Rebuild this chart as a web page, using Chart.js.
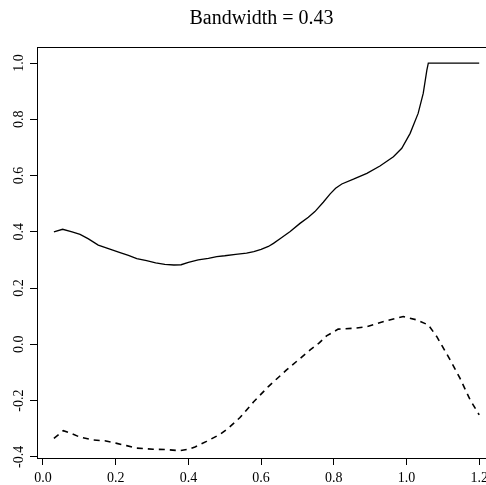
<!DOCTYPE html>
<html lang="en">
<head>
  <meta charset="UTF-8" />
  <title>Bandwidth = 0.43</title>
  <script src="https://cdn.jsdelivr.net/npm/chart.js"></script>
  <style>
    body { margin: 0; background: #fff; }
    #wrap { width: 486px; height: 485px; }
  </style>
</head>
<body>
  <div id="wrap"><canvas id="grafik"></canvas></div>
  <script>
    // solid curve
    const solidX = [0.03, 0.054, 0.08, 0.102, 0.125, 0.152, 0.18, 0.212, 0.235, 0.258, 0.285, 0.31, 0.335, 0.36, 0.38, 0.40, 0.427, 0.455, 0.478, 0.50, 0.53, 0.56, 0.58, 0.60, 0.62, 0.634, 0.655, 0.68, 0.707, 0.73, 0.748, 0.771, 0.79, 0.805, 0.822, 0.854, 0.891, 0.927, 0.964, 0.987, 1.01, 1.032, 1.046, 1.056, 1.06, 1.2];
    const solidY = [0.400, 0.409, 0.400, 0.391, 0.375, 0.353, 0.340, 0.326, 0.316, 0.305, 0.298, 0.290, 0.284, 0.282, 0.283, 0.291, 0.300, 0.306, 0.312, 0.315, 0.320, 0.324, 0.330, 0.338, 0.348, 0.359, 0.378, 0.401, 0.430, 0.452, 0.472, 0.505, 0.535, 0.555, 0.570, 0.587, 0.608, 0.634, 0.667, 0.697, 0.750, 0.821, 0.892, 0.975, 1.0, 1.0];
    // dashed curve
    const dashX = [0.03, 0.056, 0.08, 0.102, 0.138, 0.17, 0.203, 0.23, 0.258, 0.303, 0.34, 0.377, 0.40, 0.418, 0.45, 0.487, 0.51, 0.542, 0.579, 0.62, 0.67, 0.70, 0.735, 0.76, 0.78, 0.812, 0.854, 0.891, 0.945, 0.991, 1.028, 1.06, 1.083, 1.12, 1.147, 1.175, 1.2];
    const dashY = [-0.334, -0.307, -0.318, -0.330, -0.340, -0.343, -0.352, -0.360, -0.369, -0.373, -0.374, -0.378, -0.373, -0.365, -0.345, -0.320, -0.298, -0.260, -0.205, -0.150, -0.091, -0.058, -0.020, 0.005, 0.030, 0.054, 0.057, 0.063, 0.084, 0.099, 0.087, 0.069, 0.028, -0.055, -0.120, -0.197, -0.251];
    const xTicks = [0.0, 0.2, 0.4, 0.6, 0.8, 1.0, 1.2];
    const yTicks = [-0.4, -0.2, 0.0, 0.2, 0.4, 0.6, 0.8, 1.0];

    const serif = "'Liberation Serif', 'DejaVu Serif', serif";

    const toPoints = (xs, ys) => xs.map((x, i) => ({ x: x, y: ys[i] }));

    // white background + top edge of the box
    const boxPlugin = {
      id: 'box',
      beforeDraw(chart) {
        const c = chart.ctx;
        c.save();
        c.fillStyle = '#fff';
        c.fillRect(0, 0, chart.width, chart.height);
        c.restore();
      },
      afterDraw(chart) {
        const a = chart.chartArea, c = chart.ctx;
        c.save();
        c.strokeStyle = '#000';
        c.lineWidth = 1;
        c.beginPath();
        c.moveTo(a.left, a.top + 0.5);
        c.lineTo(a.right, a.top + 0.5);
        c.stroke();
        c.restore();
      }
    };

    new Chart(document.getElementById('grafik'), {
      type: 'scatter',
      data: {
        datasets: [
          {
            data: toPoints(solidX, solidY),
            showLine: true,
            borderColor: '#000',
            borderWidth: 1.3,
            pointRadius: 0,
            tension: 0
          },
          {
            data: toPoints(dashX, dashY),
            showLine: true,
            borderColor: '#000',
            borderWidth: 1.6,
            borderDash: [6, 5],
            pointRadius: 0,
            tension: 0
          }
        ]
      },
      options: {
        responsive: true,
        maintainAspectRatio: false,
        animation: false,
        layout: { padding: 0 },
        plugins: {
          legend: { display: false },
          tooltip: { enabled: false },
          title: {
            display: true,
            fullSize: false,
            text: 'Bandwidth = 0.43',
            color: '#000',
            font: { family: serif, size: 20, weight: 'normal' },
            padding: { top: 7, bottom: 16 }
          }
        },
        scales: {
          x: {
            type: 'linear',
            min: -0.0165,
            max: 1.2187,
            afterFit: s => { s.height = 27; s.paddingLeft = 0; s.paddingRight = 0; },
            afterBuildTicks: s => { s.ticks = xTicks.map(v => ({ value: v })); },
            border: { display: true, color: '#000', width: 1 },
            grid: { drawOnChartArea: false, drawTicks: true, tickLength: 7, tickColor: '#000' },
            ticks: {
              color: '#000',
              padding: 5,
              maxRotation: 0,
              font: { family: serif, size: 14 },
              callback: v => v.toFixed(1)
            }
          },
          y: {
            type: 'linear',
            min: -0.404,
            max: 1.057,
            afterFit: s => { s.width = 37; s.paddingTop = 0; s.paddingBottom = 0; },
            afterBuildTicks: s => { s.ticks = yTicks.map(v => ({ value: v })); },
            border: { display: true, color: '#000', width: 1 },
            grid: { drawOnChartArea: false, drawTicks: true, tickLength: 7, tickColor: '#000' },
            ticks: {
              color: '#000',
              padding: 0,
              minRotation: 90,
              maxRotation: 90,
              crossAlign: 'center',
              font: { family: serif, size: 14 },
              callback: v => v.toFixed(1)
            }
          }
        }
      },
      plugins: [boxPlugin]
    });
  </script>
</body>
</html>
